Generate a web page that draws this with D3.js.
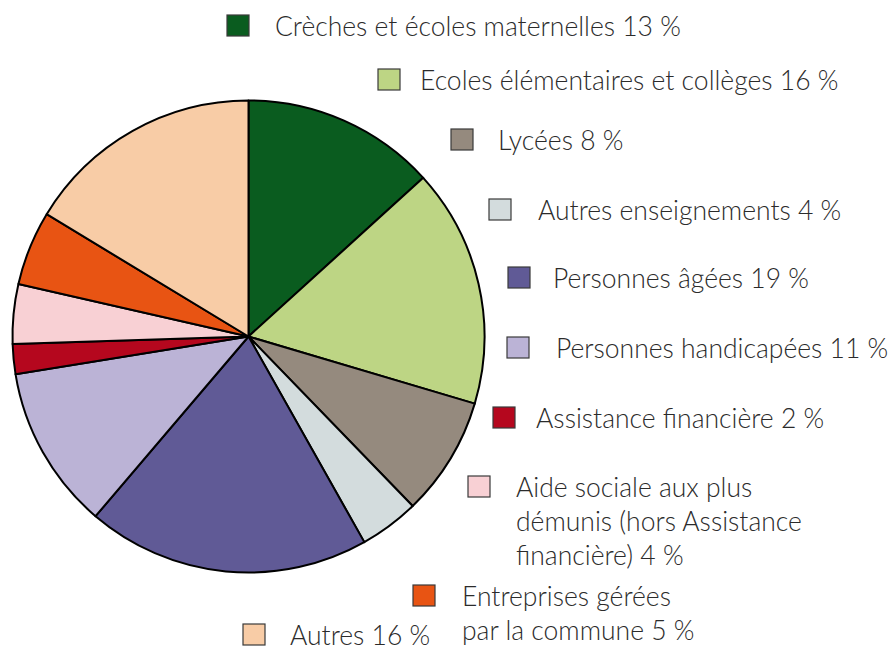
<!DOCTYPE html>
<html>
<head>
<meta charset="utf-8">
<script src="https://cdn.jsdelivr.net/npm/d3@7"></script>
<style>
  body { margin: 0; background: #fff; }
  text { font-family: Lato, "Open Sans", sans-serif; font-weight: 300; fill: #2b2b2b; }
</style>
</head>
<body>
<svg id="chart"></svg>
<script>
const categories = [
  ["Crèches et écoles maternelles 13 %"],
  ["Ecoles élémentaires et collèges 16 %"],
  ["Lycées 8 %"],
  ["Autres enseignements 4 %"],
  ["Personnes âgées 19 %"],
  ["Personnes handicapées 11 %"],
  ["Assistance financière 2 %"],
  ["Aide sociale aux plus", "démunis (hors Assistance", "financière) 4 %"],
  ["Entreprises gérées", "par la commune 5 %"],
  ["Autres 16 %"]
];
const values = [13, 16, 8, 4, 19, 11, 2, 4, 5, 16];
const colors = ["#0a5c1f", "#bdd584", "#958a7e", "#d3dcdd", "#605a96",
                "#bbb3d6", "#b5071e", "#f8d0d4", "#e85413", "#f8cca6"];

// legend layout: square x, text x, first baseline
const legendPos = [
  [227, 275, 36], [378, 420, 90], [451, 498, 150], [489, 538, 220],
  [508, 553, 288], [507, 556, 358], [493, 536, 428], [468, 516, 497],
  [413, 462, 606], [243, 290, 645]
];

const w = 892, h = 650;
const cx = 248.5, cy = 336.5, r = 236;

const svg = d3.select("#chart").attr("width", w).attr("height", h);

const pie = d3.pie().sort(null).value(d => d);
const arc = d3.arc().innerRadius(0).outerRadius(r);

svg.append("g").attr("transform", `translate(${cx},${cy})`)
  .selectAll("path").data(pie(values)).enter().append("path")
  .attr("d", arc)
  .attr("fill", (d, i) => colors[i])
  .attr("stroke", "#000")
  .attr("stroke-width", 2)
  .attr("stroke-linejoin", "round");

const leg = svg.append("g").selectAll("g").data(categories).enter().append("g");

leg.append("rect")
  .attr("x", (d, i) => legendPos[i][0])
  .attr("y", (d, i) => legendPos[i][2] - 21)
  .attr("width", 22).attr("height", 21)
  .attr("fill", (d, i) => colors[i])
  .attr("stroke", "#3a3a3a").attr("stroke-width", 1.2);

leg.append("text")
  .attr("x", (d, i) => legendPos[i][1])
  .attr("y", (d, i) => legendPos[i][2])
  .attr("font-size", 26.5)
  .each(function(lines, i) {
    d3.select(this).selectAll("tspan").data(lines).enter().append("tspan")
      .attr("x", legendPos[i][1])
      .attr("dy", (l, j) => j === 0 ? 0 : 34)
      .text(l => l);
  });
</script>
</body>
</html>
